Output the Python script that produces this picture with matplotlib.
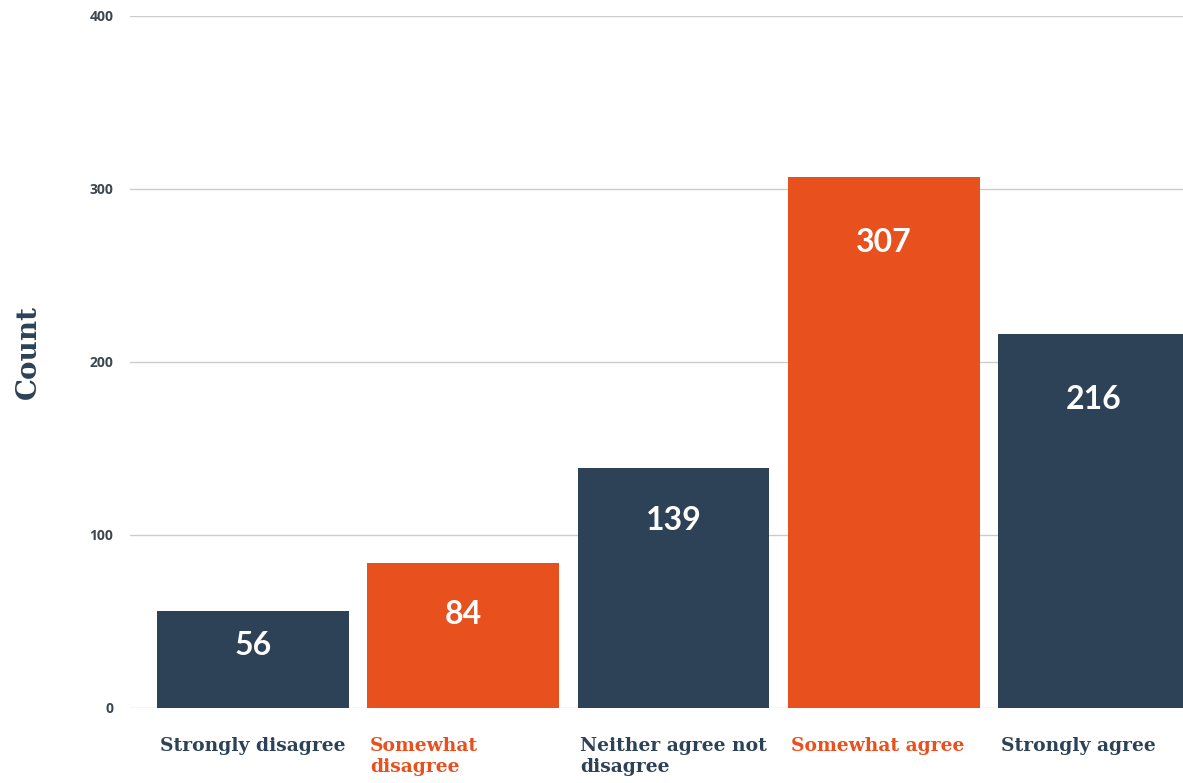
"""Bar chart of agreement counts on a five-point scale."""

import matplotlib
matplotlib.use("Agg")
import matplotlib.pyplot as plt

categories = [
    "Strongly disagree",
    "Somewhat\ndisagree",
    "Neither agree not\ndisagree",
    "Somewhat agree",
    "Strongly agree",
]
counts = [56, 84, 139, 307, 216]
y_ticks = [0, 100, 200, 300, 400]

NAVY = "#2d4256"
ORANGE = "#e8501d"
bar_colors = [NAVY, ORANGE, NAVY, ORANGE, NAVY]
# how far below each bar top the value label sits (points)
label_drop = [25, 37, 38, 47, 47]

fig = plt.figure(figsize=(11.83, 7.83), dpi=100)
ax = fig.add_axes([0.1099, 0.0958, 0.890, 0.8838])

x = list(range(len(counts)))
ax.bar(x, counts, width=0.913, color=bar_colors, zorder=3)

for xi, v, drop in zip(x, counts, label_drop):
    ax.annotate(str(v), xy=(xi, v), xytext=(0, -drop), textcoords="offset points",
                ha="center", va="center", color="white", fontsize=23,
                fontweight="bold", family="Lato", zorder=4)

ax.set_xlim(-0.585, 4.423)
ax.set_ylim(0, 400)
ax.set_yticks(y_ticks)
ax.set_yticklabels([str(t) for t in y_ticks], fontsize=10, fontweight="bold",
                   color="#3d4752", family="Open Sans")
ax.tick_params(axis="y", length=0, pad=12)
ax.set_xticks([])
ax.grid(axis="y", color="#cccccc", linewidth=1, zorder=0)
for s in ax.spines.values():
    s.set_visible(False)

# category names, left-aligned to each bar's left edge
for xi, name, c in zip(x, categories, bar_colors):
    ax.annotate(name, xy=(xi - 0.913 / 2, 0), xytext=(2, -21),
                textcoords="offset points", ha="left", va="top",
                color=c, fontsize=13.5, fontweight="bold", family="DejaVu Serif",
                linespacing=1.2, annotation_clip=False)

fig.text(0.0237, 0.55, "Count", rotation=90, ha="center", va="center",
         fontsize=20, fontweight="bold", family="DejaVu Serif", color=NAVY)

fig.savefig("out.png", dpi=100)
